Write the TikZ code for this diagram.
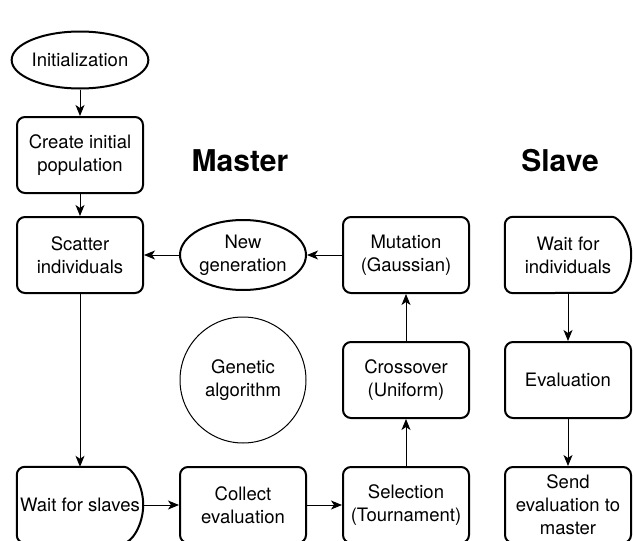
\documentclass[tikz,border=0pt]{standalone}
\usepackage{fontspec}
\setmainfont{TeX Gyre Heros}
\usetikzlibrary{shapes.geometric,arrows.meta}
\begin{document}
\begin{tikzpicture}[x=1pt, y=-1pt, font=\fontsize{18.5}{23}\selectfont,
	stepbox/.style={draw, line width=2pt, rounded corners=8pt, minimum width=126pt, minimum height=76pt, inner sep=0pt, align=center},
	waitbox/.style={minimum width=126pt, minimum height=76pt, inner sep=0pt, align=center},
	oval/.style={draw, ellipse, line width=2pt, minimum width=126pt, minimum height=70pt, inner sep=0pt, align=center},
	flow/.style={line width=1pt, -{Stealth[length=11pt, width=9pt, inset=3pt]}},
	title/.style={font=\fontsize{30}{36}\selectfont\bfseries}]
	\useasboundingbox (0, 0) rectangle (633, 541);
	\clip (0, 0) rectangle (633, 541);
	\node [oval, minimum height=57pt] (init) at (80, 60) {Initialization};
	\node [stepbox] (create) at (80, 155) {Create initial\\population};
	\node [stepbox] (scatter) at (80, 255) {Scatter\\individuals};
	\node [oval] (newgen) at (243, 255) {New\\generation};
	\node [stepbox] (mutation) at (406, 255) {Mutation\\(Gaussian)};
	\node [waitbox] (waitind) at (568, 255) {Wait for\\individuals};
	\node [draw, circle, line width=1pt, minimum size=126pt, inner sep=0pt, align=center] (genetic) at (243, 380) {Genetic\\algorithm};
	\node [stepbox] (crossover) at (406, 380) {Crossover\\(Uniform)};
	\node [stepbox] (evaluation) at (568, 380) {Evaluation};
	\node [waitbox] (waitsl) at (80, 505) {Wait for slaves};
	\node [stepbox] (collect) at (243, 505) {Collect\\evaluation};
	\node [stepbox] (selection) at (406, 505) {Selection\\(Tournament)};
	\node [stepbox] (send) at (568, 505) {Send\\evaluation to\\master};
	\node [title] (master) at (240, 161) {Master};
	\node [title] (slave) at (560, 161) {Slave};
	\draw [line width=2pt, rounded corners=8pt] ([xshift=-27pt]waitind.north east) arc [start angle=-90, end angle=90, x radius=27, y radius=38] -- (waitind.south west) -- (waitind.north west) -- cycle;
	\draw [line width=2pt, rounded corners=8pt] ([xshift=-27pt]waitsl.north east) arc [start angle=-90, end angle=90, x radius=27, y radius=38] -- (waitsl.south west) -- (waitsl.north west) -- cycle;
	\draw [flow] (init) -- (create);
	\draw [flow] (create) -- (scatter);
	\draw [flow] (scatter) -- (waitsl);
	\draw [flow] (waitsl) -- (collect);
	\draw [flow] (collect) -- (selection);
	\draw [flow] (selection) -- (crossover);
	\draw [flow] (crossover) -- (mutation);
	\draw [flow] (mutation) -- (newgen);
	\draw [flow] (newgen) -- (scatter);
	\draw [flow] (waitind) -- (evaluation);
	\draw [flow] (evaluation) -- (send);
\end{tikzpicture}
\end{document}
